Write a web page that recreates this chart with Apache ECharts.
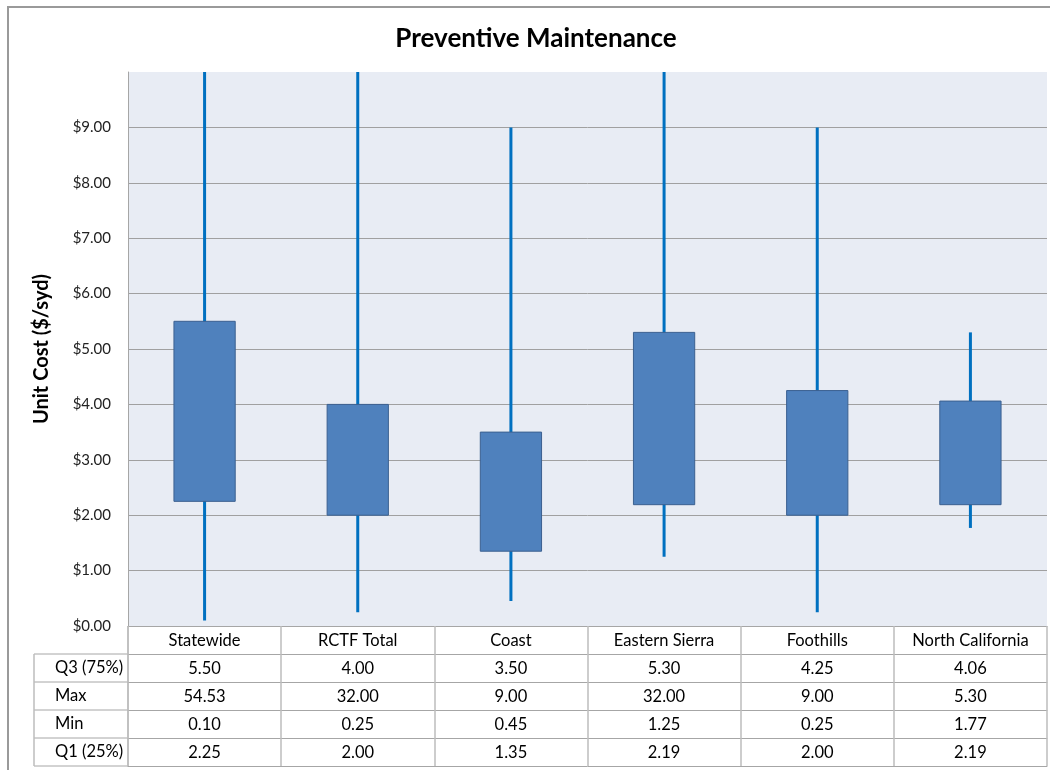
<!DOCTYPE html>
<html>
<head>
<meta charset="utf-8">
<script src="https://cdn.jsdelivr.net/npm/echarts@6/dist/echarts.min.js"></script>
<style>
html,body{margin:0;padding:0;background:#fff;}
#chart{width:1050px;height:770px;}
</style>
</head>
<body>
<div id="chart"></div>
<script>
const categories = ['Statewide', 'RCTF Total', 'Coast', 'Eastern Sierra', 'Foothills', 'North California'];
const q3Values  = [5.50, 4.00, 3.50, 5.30, 4.25, 4.06];
const maxValues = [54.53, 32.00, 9.00, 32.00, 9.00, 5.30];
const minValues = [0.10, 0.25, 0.45, 1.25, 0.25, 1.77];
const q1Values  = [2.25, 2.00, 1.35, 2.19, 2.00, 2.19];
const rowLabels = ['Q3 (75%)', 'Max', 'Min', 'Q1 (25%)'];
const rowData = [q3Values, maxValues, minValues, q1Values];
const yTickValues = [0, 1, 2, 3, 4, 5, 6, 7, 8, 9];

const FONT = 'Lato, "Open Sans", sans-serif';
const GRID_LEFT = 128, GRID_TOP = 72, GRID_W = 919, GRID_H = 554;
const ROW_H = 28;
const LINE_C = '#A6A6A6';
const TABLE_FS = 16.5;

const chart = echarts.init(document.getElementById('chart'), null, {renderer: 'canvas'});

const boxData = categories.map((c, i) => [i, minValues[i], q1Values[i], q3Values[i], maxValues[i]]);

function tableAxis(idx, labelFn, showLabel, showTick) {
  return {
    type: 'category',
    gridIndex: 0,
    position: 'bottom',
    offset: idx * ROW_H,
    data: categories,
    boundaryGap: true,
    axisLine: {show: true, lineStyle: {color: LINE_C, width: 1}},
    axisTick: {show: showTick, length: ROW_H, inside: false, alignWithLabel: false, interval: 0,
               lineStyle: {color: '#BDBDBD', width: 1.5}},
    axisLabel: {show: showLabel, interval: 0, margin: 6, color: '#000', fontFamily: FONT, fontSize: TABLE_FS,
                formatter: labelFn},
    splitLine: {show: false}
  };
}

const xAxes = [tableAxis(0, (v) => v, true, true)];
rowData.forEach((arr, r) => {
  xAxes.push(tableAxis(r + 1, (v, i) => arr[i].toFixed(2), true, true));
});
xAxes.push(tableAxis(5, () => '', false, false));

const graphics = [
  {type: 'rect', shape: {x: 8, y: 7, width: 1200, height: 900}, style: {fill: null, stroke: '#9A9A9A', lineWidth: 2}, z: 0, silent: true}
];
for (let r = 0; r <= rowLabels.length; r++) {
  const y = GRID_TOP + GRID_H + ROW_H * (r + 1);
  graphics.push({type: 'line', shape: {x1: 34, y1: y, x2: GRID_LEFT, y2: y}, style: {stroke: LINE_C, lineWidth: 1}, silent: true});
}
graphics.push({type: 'line', shape: {x1: 34, y1: GRID_TOP + GRID_H + ROW_H, x2: 34, y2: GRID_TOP + GRID_H + ROW_H * 5},
               style: {stroke: '#BDBDBD', lineWidth: 1.5}, silent: true});
graphics.push({type: 'line', shape: {x1: GRID_LEFT, y1: GRID_TOP + GRID_H, x2: GRID_LEFT, y2: GRID_TOP + GRID_H + ROW_H * 5},
               style: {stroke: '#BDBDBD', lineWidth: 1.5}, silent: true});
const labelChildren = rowLabels.map((lab, r) => ({
  type: 'text',
  style: {x: 55, y: ROW_H * r + ROW_H / 2, text: lab, fill: '#000', fontSize: TABLE_FS, fontFamily: FONT,
          align: 'left', verticalAlign: 'middle'},
  silent: true
}));
graphics.push({type: 'group', x: 0, y: GRID_TOP + GRID_H + ROW_H, children: labelChildren});

const option = {
  backgroundColor: '#fff',
  animation: false,
  title: {
    text: 'Preventive Maintenance',
    left: 531, top: 21, textAlign: 'center',
    textStyle: {fontFamily: FONT, fontSize: 26, fontWeight: 'bold', color: '#000'}
  },
  grid: {left: GRID_LEFT, top: GRID_TOP, width: GRID_W, height: GRID_H, show: true,
         backgroundColor: '#E8ECF4', borderWidth: 0, containLabel: false},
  xAxis: xAxes,
  yAxis: {
    type: 'value', min: 0, max: 10, interval: 1,
    name: 'Unit Cost ($/syd)', nameLocation: 'middle', nameGap: 76, nameRotate: 90,
    nameTextStyle: {fontFamily: FONT, fontSize: 20, fontWeight: 'bold', color: '#000'},
    axisLine: {show: true, lineStyle: {color: LINE_C, width: 1}},
    axisTick: {show: false},
    axisLabel: {margin: 17, color: '#222', fontFamily: FONT, fontSize: 15, showMaxLabel: false,
                formatter: (v) => yTickValues.indexOf(v) >= 0 ? '$' + v.toFixed(2) : ''},
    splitLine: {show: true, showMaxLine: false, lineStyle: {color: '#A0A0A0', width: 1}}
  },
  series: [{
    type: 'custom',
    xAxisIndex: 0,
    clip: true,
    data: boxData,
    encode: {x: 0, y: [1, 2, 3, 4]},
    renderItem: function (params, api) {
      const x = api.value(0);
      const pMin = api.coord([x, api.value(1)]);
      const pQ1 = api.coord([x, api.value(2)]);
      const pQ3 = api.coord([x, api.value(3)]);
      const pMax = api.coord([x, api.value(4)]);
      const top = params.coordSys.y;
      const w = api.size([1, 0])[0] * 0.4;
      return {
        type: 'group',
        children: [
          {type: 'line', shape: {x1: pMin[0], y1: pMin[1], x2: pMax[0], y2: Math.max(pMax[1], top)},
           style: {stroke: '#0070C0', lineWidth: 3}},
          {type: 'rect', shape: {x: pQ3[0] - w / 2, y: pQ3[1], width: w, height: pQ1[1] - pQ3[1]},
           style: {fill: '#4F81BD', stroke: '#3B6090', lineWidth: 1}}
        ]
      };
    }
  }],
  graphic: graphics
};
chart.setOption(option);
</script>
</body>
</html>
